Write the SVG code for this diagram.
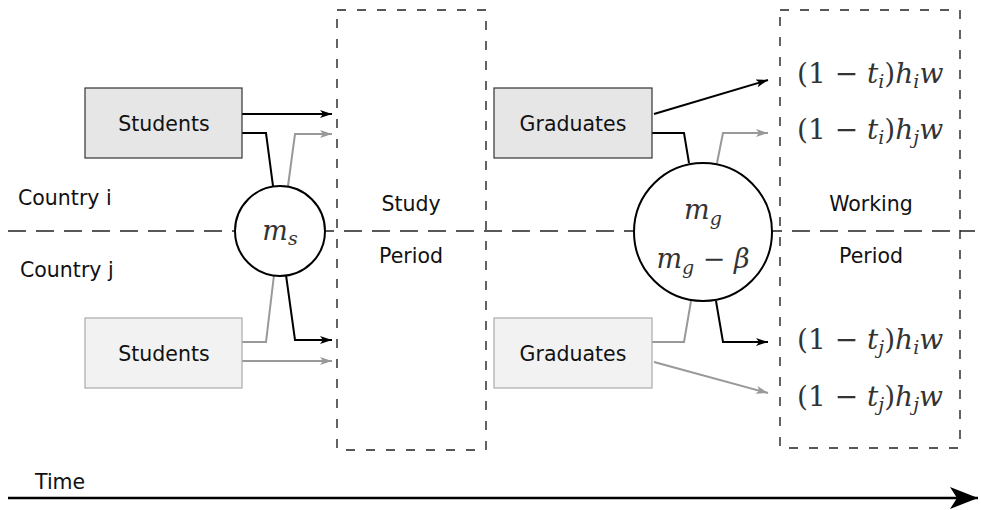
<svg xmlns="http://www.w3.org/2000/svg" width="981" height="510" viewBox="0 0 981 510">
<style>
.lbl{font-family:"DejaVu Sans",sans-serif;font-size:20.5px;fill:#111;text-anchor:middle}
.math{font-family:"DejaVu Serif","Liberation Serif",serif;font-size:28px;fill:#333}
.it{font-style:italic}
.sub{font-size:19px;font-style:italic}
.dk{stroke:#000;stroke-width:2;fill:none}
.lt{stroke:#999;stroke-width:2;fill:none}
.box{stroke:#222;stroke-width:1.4;stroke-dasharray:9,11;fill:none}
</style>
<defs>
<marker id="ab" markerWidth="12" markerHeight="8" refX="12" refY="4" orient="auto" markerUnits="userSpaceOnUse"><path d="M0,0 L12,4 L0,8 L3,4 z" fill="#000"/></marker>
<marker id="ag" markerWidth="12" markerHeight="8" refX="12" refY="4" orient="auto" markerUnits="userSpaceOnUse"><path d="M0,0 L12,4 L0,8 L3,4 z" fill="#999"/></marker>
<marker id="big" markerWidth="30" markerHeight="22" refX="28" refY="11" orient="auto" markerUnits="userSpaceOnUse"><path d="M0,0 L28,11 L0,22 L7,11 z" fill="#000"/></marker>
</defs>

<g id="dashed-divider"><line x1="8" y1="231" x2="975" y2="231" stroke="#222" stroke-width="1.5" stroke-dasharray="18,10"/></g>

<g id="study-period"><rect class="box" x="337" y="10" width="149" height="440"/>
<text class="lbl" x="411" y="211">Study</text><text class="lbl" x="411" y="263">Period</text></g>

<g id="working-period"><rect class="box" x="780" y="10" width="180" height="438"/>
<text class="lbl" x="871" y="211">Working</text><text class="lbl" x="871" y="263">Period</text></g>

<g id="country-labels">
<text class="lbl" x="18" y="205" style="text-anchor:start">Country i</text>
<text class="lbl" x="20" y="277" style="text-anchor:start">Country j</text>
</g>

<g id="connectors">
<line class="dk" x1="242" y1="114" x2="332" y2="114" marker-end="url(#ab)"/>
<polyline class="dk" points="242,133 266,133 273,186"/>
<polyline class="lt" points="288,186 295,134 332,134" marker-end="url(#ag)"/>
<polyline class="lt" points="242,342 266,342 274,275"/>
<polyline class="dk" points="286,275 295,340 332,340" marker-end="url(#ab)"/>
<line class="lt" x1="242" y1="361" x2="332" y2="361" marker-end="url(#ag)"/>

<line class="dk" x1="654" y1="114" x2="768" y2="80" marker-end="url(#ab)"/>
<polyline class="dk" points="652,133 684,133 689,163"/>
<polyline class="lt" points="717,163 723,133 768,133" marker-end="url(#ag)"/>
<polyline class="lt" points="652,342 684,342 691,301"/>
<polyline class="dk" points="716,301 723,342 768,342" marker-end="url(#ab)"/>
<line class="lt" x1="654" y1="362" x2="768" y2="393" marker-end="url(#ag)"/>

<line x1="8" y1="498" x2="978" y2="498" stroke="#000" stroke-width="2.5" marker-end="url(#big)"/>
</g>

<g id="students-i"><rect x="85" y="88" width="157" height="70" fill="#e6e6e6" stroke="#333" stroke-width="1.2"/>
<text class="lbl" x="164" y="131">Students</text></g>
<g id="students-j"><rect x="85" y="318" width="157" height="70" fill="#f2f2f2" stroke="#aaa" stroke-width="1.2"/>
<text class="lbl" x="164" y="361">Students</text></g>
<g id="graduates-i"><rect x="494" y="88" width="158" height="70" fill="#e6e6e6" stroke="#333" stroke-width="1.2"/>
<text class="lbl" x="573" y="131">Graduates</text></g>
<g id="graduates-j"><rect x="494" y="318" width="158" height="70" fill="#f2f2f2" stroke="#aaa" stroke-width="1.2"/>
<text class="lbl" x="573" y="361">Graduates</text></g>

<g id="ms"><circle cx="280" cy="231" r="45" fill="#fff" stroke="#000" stroke-width="2"/>
<text class="math" x="280" y="240" text-anchor="middle" style="font-size:27px"><tspan class="it">m</tspan><tspan class="sub" dy="5">s</tspan></text></g>

<g id="mg"><circle cx="703" cy="232" r="69" fill="#fff" stroke="#000" stroke-width="2"/>
<text class="math" x="703" y="219" text-anchor="middle" style="font-size:27px"><tspan class="it">m</tspan><tspan class="sub" dy="6">g</tspan></text>
<text class="math" x="703" y="268" text-anchor="middle" style="font-size:27px"><tspan class="it">m</tspan><tspan class="sub" dy="6">g</tspan><tspan dy="-6"> − </tspan><tspan class="it">β</tspan></text></g>

<g id="payoffs">
<text class="math" x="797" y="83">(1 − <tspan class="it">t</tspan><tspan class="sub" dy="5">i</tspan><tspan dy="-5">)</tspan><tspan class="it">h</tspan><tspan class="sub" dy="5">i</tspan><tspan class="it" dy="-5">w</tspan></text>
<text class="math" x="797" y="139">(1 − <tspan class="it">t</tspan><tspan class="sub" dy="5">i</tspan><tspan dy="-5">)</tspan><tspan class="it">h</tspan><tspan class="sub" dy="5">j</tspan><tspan class="it" dy="-5">w</tspan></text>
<text class="math" x="797" y="349">(1 − <tspan class="it">t</tspan><tspan class="sub" dy="5">j</tspan><tspan dy="-5">)</tspan><tspan class="it">h</tspan><tspan class="sub" dy="5">i</tspan><tspan class="it" dy="-5">w</tspan></text>
<text class="math" x="797" y="406">(1 − <tspan class="it">t</tspan><tspan class="sub" dy="5">j</tspan><tspan dy="-5">)</tspan><tspan class="it">h</tspan><tspan class="sub" dy="5">j</tspan><tspan class="it" dy="-5">w</tspan></text>
</g>

<g id="time-label"><text class="lbl" x="35" y="489" style="text-anchor:start">Time</text></g>
</svg>
